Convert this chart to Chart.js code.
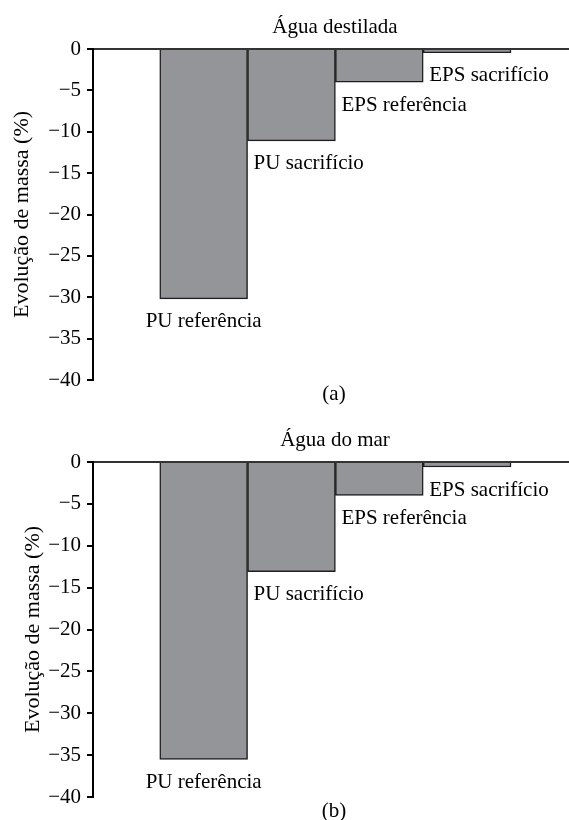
<!DOCTYPE html>
<html>
<head>
<meta charset="utf-8">
<script src="https://cdn.jsdelivr.net/npm/chart.js@4.4.0/dist/chart.umd.min.js"></script>
<style>
    body { margin: 0; background: #fff; }
    canvas { display: block; }
</style>
</head>
<body>
<canvas id="chartA" width="569" height="410"></canvas>
<canvas id="chartB" width="569" height="410"></canvas>
<script>
const categories = ['PU referência', 'PU sacrifício', 'EPS referência', 'EPS sacrifício'];
const destiladaValues = [-30.2, -11.1, -4.0, -0.45];
const marValues = [-35.5, -13.1, -4.0, -0.6];
const yMin = -40;
const yMax = 0;
const yStep = 5;

// empty space left of the first bar and total width, in bar widths
const barGap = 0.76;
const xMax = 5.42;

const serif = '"Liberation Serif", "Times New Roman", serif';

// title above, panel tag below and the category names under each bar
const panelText = {
    id: 'panelText',
    afterDatasetsDraw(chart, args, opts) {
        const ctx = chart.ctx;
        const area = chart.chartArea;
        const bars = chart.getDatasetMeta(0).data;
        ctx.save();
        ctx.font = '21px ' + serif;
        ctx.fillStyle = '#000';

        ctx.textAlign = 'center';
        ctx.textBaseline = 'alphabetic';
        ctx.fillText(opts.title, (area.left + area.right) / 2 + 4, area.top - 16);

        ctx.textBaseline = 'middle';
        ctx.fillText(opts.tag, (area.left + area.right) / 2 + 3, area.bottom + 14);

        bars.forEach((bar, i) => {
            const y = bar.y + 23;
            if (i === 0) {
                ctx.textAlign = 'center';
                ctx.fillText(categories[i], bar.x, y);
            } else {
                ctx.textAlign = 'left';
                ctx.fillText(categories[i], bar.x - bar.width / 2 + 6, y);
            }
        });
        ctx.restore();
    },
};

function makeChart(id, values, title, tag, padTop, padBottom, yTitlePad) {
    const ctx = document.getElementById(id);
    const config = {
        type: 'bar',
        data: {
            datasets: [
                {
                    data: values.map((v, i) => ({ x: i + barGap + 0.5, y: v })),
                    backgroundColor: '#939598',
                    borderColor: '#1e1e1e',
                    borderWidth: 1.5,
                    barPercentage: 1,
                    categoryPercentage: 1,
                },
            ],
        },
        options: {
            responsive: false,
            animation: false,
            layout: {
                padding: { top: padTop, bottom: padBottom, left: 0, right: 0 },
            },
            plugins: {
                legend: { display: false },
                tooltip: { enabled: false },
                panelText: { title: title, tag: tag },
            },
            scales: {
                x: {
                    type: 'linear',
                    min: 0,
                    max: xMax,
                    offset: false,
                    display: false,
                },
                y: {
                    min: yMin,
                    max: yMax,
                    border: { color: '#000', width: 2 },
                    grid: {
                        color: (c) => (c.tick && c.tick.value === 0 ? '#333' : 'rgba(0,0,0,0)'),
                        lineWidth: 2,
                        tickColor: '#000',
                        tickLength: 6,
                        tickWidth: 2,
                    },
                    ticks: {
                        stepSize: yStep,
                        padding: 6,
                        color: '#000',
                        font: { family: serif, size: 21 },
                        callback: (v) => (v < 0 ? '\u2212' + Math.abs(v) : '' + v),
                    },
                    title: {
                        display: true,
                        text: 'Evolução de massa (%)',
                        color: '#000',
                        font: { family: serif, size: 22 },
                        padding: { top: yTitlePad, bottom: 0 },
                    },
                    afterFit: (scale) => {
                        scale.width = 93;
                    },
                },
            },
        },
        plugins: [panelText],
    };
    return new Chart(ctx, config);
}

makeChart('chartA', destiladaValues, 'Água destilada', '(a)', 49, 30, 9);
makeChart('chartB', marValues, 'Água do mar', '(b)', 52, 23, 20);
</script>
</body>
</html>
